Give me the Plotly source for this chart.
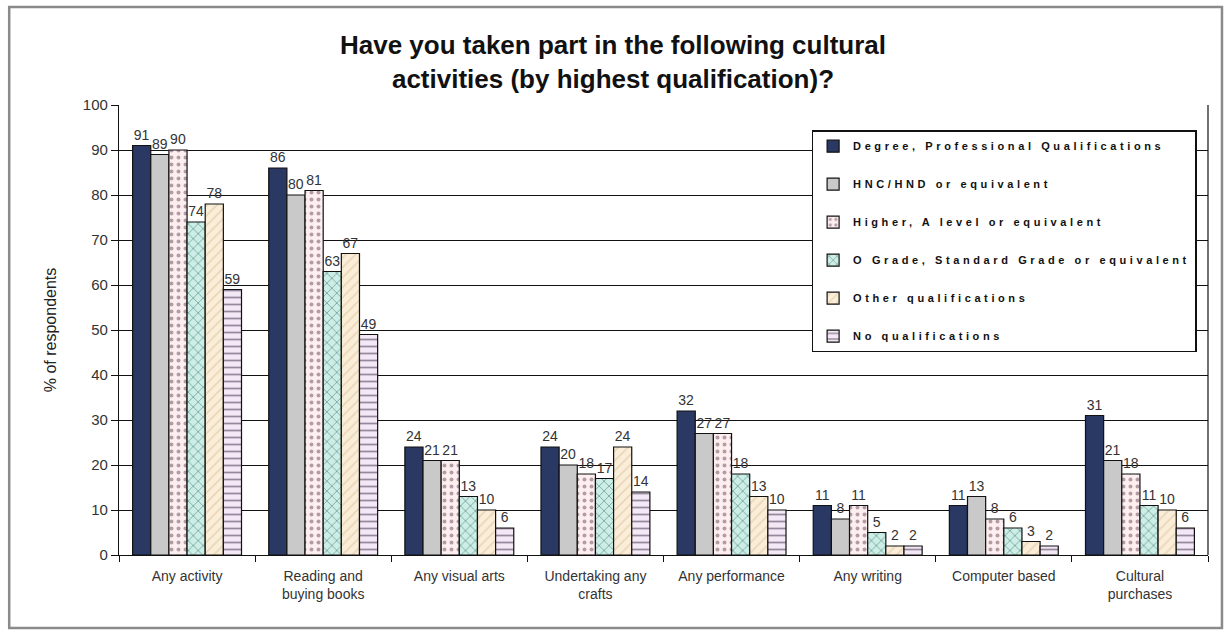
import plotly.graph_objects as go

categories = [
    "Any activity",
    "Reading and<br>buying books",
    "Any visual arts",
    "Undertaking any<br>crafts",
    "Any performance",
    "Any writing",
    "Computer based",
    "Cultural<br>purchases",
]

series_names = [
    "Degree, Professional Qualifications",
    "HNC/HND or equivalent",
    "Higher, A level or equivalent",
    "O Grade, Standard Grade or equivalent",
    "Other qualifications",
    "No qualifications",
]

degree = [91, 86, 24, 24, 32, 11, 11, 31]
hnc_hnd = [89, 80, 21, 20, 27, 8, 13, 21]
higher = [90, 81, 21, 18, 27, 11, 8, 18]
o_grade = [74, 63, 13, 17, 18, 5, 6, 11]
other = [78, 67, 10, 24, 13, 2, 3, 10]
no_qual = [59, 49, 6, 14, 10, 2, 2, 6]

series_values = [degree, hnc_hnd, higher, o_grade, other, no_qual]

y_ticks = list(range(0, 101, 10))

# fill colour, pattern shape, pattern colour
styles = [
    ("#2a3864", "", None),
    ("#c9c9c9", "", None),
    ("#fdeef0", ".", "#6a4a55"),
    ("#cdeee6", "x", "#2f6a5e"),
    ("#fbeed9", "/", "#d9bf98"),
    ("#f3e8f6", "-", "#3a2a45"),
]

fig = go.Figure()
for i, (name, vals) in enumerate(zip(series_names, series_values)):
    bg, shape, fg = styles[i]
    marker = dict(color=bg, line=dict(color="#111111", width=1.2))
    if shape:
        marker["pattern"] = dict(shape=shape, fgcolor=fg, bgcolor=bg, size=7, solidity=0.25)
    fig.add_trace(go.Bar(
        x=categories,
        y=vals,
        name='<span style="letter-spacing:3.6px">' + name + "</span>",
        legendgroup=f"g{i}",
        marker=marker,
        text=[str(v) for v in vals],
        textposition="outside",
        textfont=dict(family="Liberation Sans, Arial, sans-serif", size=14, color="#333333"),
        cliponaxis=False,
    ))

fig.update_layout(
    width=1226,
    height=630,
    paper_bgcolor="white",
    plot_bgcolor="white",
    margin=dict(l=119, r=18, t=105, b=75),
    barmode="group",
    bargap=0.2,
    bargroupgap=0,
    title=dict(
        text="<b>Have you taken part in the following cultural<br>activities (by highest qualification)?</b>",
        font=dict(family="Liberation Sans Narrow, Arial Narrow, Liberation Sans, sans-serif", size=26, color="#111111"),
        x=0.5,
        xanchor="center",
        yref="container",
        y=1 - 54 / 630,
        yanchor="top",
    ),
    legend=dict(
        x=0.636,
        y=0.944,
        xanchor="left",
        yanchor="top",
        bgcolor="white",
        bordercolor="#111111",
        borderwidth=1.5,
        traceorder="grouped",
        tracegroupgap=19,
        font=dict(family="Liberation Sans, Arial, sans-serif", size=11, color="#111111", weight="bold"),
        itemwidth=30,
    ),
    showlegend=True,
    font=dict(family="Liberation Sans, Arial, sans-serif", color="#333333"),
)

fig.update_yaxes(
    range=[0, 100],
    tickvals=y_ticks,
    ticks="outside",
    ticklen=7,
    tickcolor="#111111",
    showline=True,
    linecolor="#111111",
    linewidth=1.2,
    showgrid=True,
    gridcolor="#111111",
    gridwidth=1.2,
    zeroline=False,
    tickfont=dict(size=15, color="#333333"),
    title=dict(text="% of respondents", font=dict(size=16, color="#222222"), standoff=22),
    mirror=False,
)

fig.update_xaxes(
    type="category",
    showline=True,
    linecolor="#111111",
    linewidth=1.2,
    ticks="outside",
    tickson="boundaries",
    ticklen=6,
    tickcolor="#111111",
    ticklabelstandoff=8,
    tickfont=dict(size=14, color="#333333"),
)

# right edge of the plotting area
fig.add_shape(type="line", xref="paper", yref="paper", x0=1, x1=1, y0=0, y1=1,
              line=dict(color="#111111", width=1.2))
# outer chart frame
fig.add_shape(type="rect", xref="paper", yref="paper",
              x0=-110 / 1091, x1=1 + 14 / 1091, y0=-73 / 450, y1=1 + 98 / 450,
              line=dict(color="#8a8a8a", width=2.5), fillcolor="rgba(0,0,0,0)", layer="below")

fig.write_html("out.html")
